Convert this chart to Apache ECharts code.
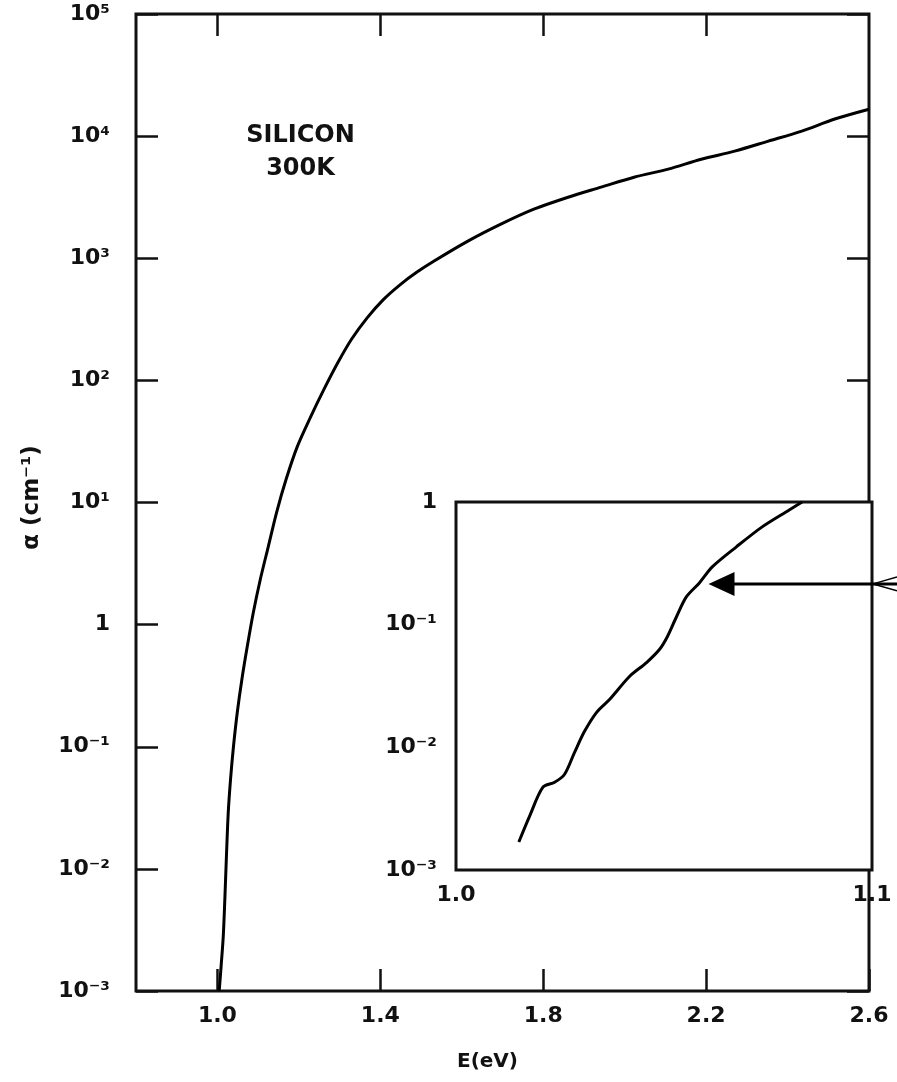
<!DOCTYPE html>
<html><head><meta charset="utf-8">
<script src="https://cdn.jsdelivr.net/npm/echarts@6/dist/echarts.min.js"></script>
<style>html,body{margin:0;padding:0;background:#fff}#c{width:897px;height:1082px}</style>
</head><body><div id="c"></div>
<script>
// ---- data ----
const mainE = [1.0043, 1.0092, 1.0142, 1.0181, 1.0220, 1.0265, 1.0321, 1.0393, 1.0486, 1.0599, 1.0732, 1.0880, 1.1052, 1.1249, 1.1458, 1.1692, 1.1963, 1.2283, 1.2615, 1.2948, 1.3292, 1.3686, 1.4080, 1.4498, 1.4892, 1.5311, 1.615, 1.696, 1.777, 1.861, 1.942, 2.023, 2.107, 2.188, 2.270, 2.353, 2.435, 2.516, 2.600];
const mainAlpha = [0.00100, 0.00163, 0.00277, 0.00557, 0.0125, 0.0288, 0.0537, 0.100, 0.190, 0.354, 0.661, 1.25, 2.34, 4.36, 8.43, 15.7, 28.8, 49.8, 84.3, 138, 217, 328, 461, 612, 767, 944, 1380, 1900, 2520, 3160, 3820, 4610, 5370, 6470, 7530, 9100, 11000, 13800, 16600];
const insetE = [1.0151, 1.0177, 1.0209, 1.0237, 1.0261, 1.0285, 1.0309, 1.0338, 1.0369, 1.0417, 1.0458, 1.0489, 1.0508, 1.0530, 1.0554, 1.0585, 1.0616, 1.0674, 1.0736, 1.0801, 1.0832];
const insetAlpha = [0.00169, 0.00275, 0.00473, 0.00519, 0.00603, 0.00910, 0.0135, 0.0193, 0.0245, 0.0378, 0.0491, 0.0627, 0.0798, 0.116, 0.169, 0.219, 0.296, 0.431, 0.627, 0.861, 1.0];
const mainXTicks = [1.0, 1.4, 1.8, 2.2, 2.6];
const mainXTopTicks = [1.0, 1.4, 1.8, 2.2];
const mainYTicks = [1e-3, 1e-2, 1e-1, 1, 1e1, 1e2, 1e3, 1e4, 1e5];
const insetXLabels = [1.0, 1.1];
const insetYLabels = [1e-3, 1e-2, 1e-1, 1];
const insetYTicks = [1e-2, 1e-1];
const sampleText = ['SILICON', '300K'];
const sampleAnchor = [1.204, 1e4];
const arrowTip = [1.0607, 0.215];
const xName = 'E(eV)';
const yName = 'α (cm⁻¹)';

// ---- helpers ----
const SUP = {'-':'⁻','0':'⁰','1':'¹','2':'²','3':'³','4':'⁴','5':'⁵','6':'⁶','7':'⁷','8':'⁸','9':'⁹'};
function powLabel(v) {
  const e = Math.round(Math.log10(v));
  if (e === 0) return '1';
  return '10' + String(e).split('').map(c => SUP[c]).join('');
}
const INK = '#111';
const FONT = 'DejaVu Sans';
const lbl = {color: INK, fontSize: 22, fontFamily: FONT, fontWeight: 'bold'};
const tickStyle = {color: INK, width: 2.5};

const chart = echarts.init(document.getElementById('c'), null, {renderer: 'canvas'});
const option = {
  backgroundColor: '#fff',
  animation: false,
  grid: [
    {left: 136, top: 14, right: 28, bottom: 91, show: true, borderColor: INK, borderWidth: 3, backgroundColor: '#fff', z: 0},
    {left: 456, top: 502, right: 25, bottom: 212, show: true, borderColor: INK, borderWidth: 3, backgroundColor: '#fff', z: 5}
  ],
  xAxis: [
    {type: 'value', gridIndex: 0, min: 0.8, max: 2.6, position: 'bottom',
     axisLine: {show: false}, splitLine: {show: false},
     axisTick: {inside: true, length: 22, lineStyle: tickStyle, customValues: mainXTicks},
     axisLabel: Object.assign({customValues: mainXTicks, formatter: v => Number(v).toFixed(1), margin: 14}, lbl),
     name: xName, nameLocation: 'middle', nameGap: 61,
     nameTextStyle: {color: INK, fontSize: 20, fontFamily: FONT, fontWeight: 'bold', padding: [0, 30, 0, 0]}},
    {type: 'value', gridIndex: 0, min: 0.8, max: 2.6, position: 'top',
     axisLine: {show: false}, splitLine: {show: false},
     axisTick: {inside: true, length: 22, lineStyle: tickStyle, customValues: mainXTopTicks},
     axisLabel: {show: false}},
    {type: 'value', gridIndex: 1, min: 1.0, max: 1.1, position: 'bottom',
     axisLine: {show: false}, splitLine: {show: false},
     axisTick: {show: false},
     axisLabel: Object.assign({customValues: insetXLabels, formatter: v => Number(v).toFixed(1), margin: 14}, lbl)}
  ],
  yAxis: [
    {type: 'log', logBase: 10, gridIndex: 0, min: 1e-3, max: 1e5, position: 'left',
     axisLine: {show: false}, splitLine: {show: false}, minorTick: {show: false},
     axisTick: {inside: true, length: 22, lineStyle: tickStyle, customValues: mainYTicks},
     axisLabel: Object.assign({customValues: mainYTicks, formatter: powLabel, margin: 26}, lbl),
     name: yName, nameLocation: 'middle', nameGap: 92, nameRotate: 90,
     nameTextStyle: {color: INK, fontSize: 23, fontFamily: FONT, fontWeight: 'bold', padding: [0, 0, 0, 10]}},
    {type: 'log', logBase: 10, gridIndex: 0, min: 1e-3, max: 1e5, position: 'right',
     axisLine: {show: false}, splitLine: {show: false},
     axisTick: {inside: true, length: 22, lineStyle: tickStyle, customValues: mainYTicks},
     axisLabel: {show: false}},
    {type: 'log', logBase: 10, gridIndex: 1, min: 1e-3, max: 1, position: 'left',
     axisLine: {show: false}, splitLine: {show: false},
     axisTick: {inside: true, length: 22, lineStyle: tickStyle, customValues: insetYTicks},
     axisLabel: Object.assign({customValues: insetYLabels, formatter: powLabel, margin: 19}, lbl)},
    {type: 'log', logBase: 10, gridIndex: 1, min: 1e-3, max: 1, position: 'right',
     axisLine: {show: false}, splitLine: {show: false},
     axisTick: {inside: true, length: 22, lineStyle: tickStyle, customValues: insetYTicks},
     axisLabel: {show: false}}
  ],
  series: [
    {type: 'line', xAxisIndex: 0, yAxisIndex: 0, data: mainE.map((e, i) => [e, mainAlpha[i]]),
     showSymbol: false, symbol: 'none', smooth: 0.3, clip: true,
     lineStyle: {color: '#000', width: 3}, z: 3},
    {type: 'line', xAxisIndex: 2, yAxisIndex: 2, data: insetE.map((e, i) => [e, insetAlpha[i]]),
     showSymbol: false, symbol: 'none', smooth: 0.3, clip: true,
     lineStyle: {color: '#000', width: 3}, z: 6}
  ]
};
chart.setOption(option);

const W = chart.getWidth();
const tip = chart.convertToPixel({xAxisIndex: 2, yAxisIndex: 2}, arrowTip);
const insetRight = chart.convertToPixel({xAxisIndex: 2}, 1.1);
const anchor = chart.convertToPixel({xAxisIndex: 0, yAxisIndex: 0}, sampleAnchor);
chart.setOption({
  graphic: [
    {type: 'text', x: anchor[0], y: anchor[1], z: 20,
     style: {text: sampleText[0], fill: INK, font: 'bold 24px "DejaVu Sans"', align: 'center', verticalAlign: 'middle'}},
    {type: 'text', x: anchor[0], y: anchor[1] + 33, z: 20,
     style: {text: sampleText[1], fill: INK, font: 'bold 24px "DejaVu Sans"', align: 'center', verticalAlign: 'middle'}},
    {type: 'line', z: 20, shape: {x1: tip[0] + 24, y1: tip[1], x2: W, y2: tip[1]},
     style: {stroke: '#000', lineWidth: 3}},
    {type: 'polygon', z: 20, shape: {points: [[tip[0], tip[1]], [tip[0] + 26, tip[1] - 12], [tip[0] + 26, tip[1] + 12]]},
     style: {fill: '#000'}},
    {type: 'polyline', z: 20, shape: {points: [[W, tip[1] - 7], [insetRight + 1, tip[1]], [W, tip[1] + 7]]},
     style: {stroke: '#000', lineWidth: 1.5, fill: null}}
  ]
});
</script>
</body></html>
